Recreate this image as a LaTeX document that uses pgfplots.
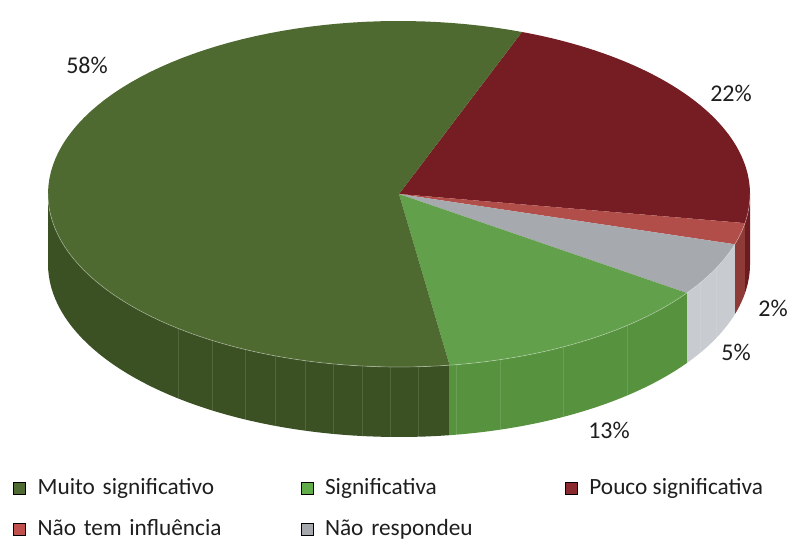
\documentclass[border=0pt]{standalone}
\usepackage{pgfplots}
\usepackage{pgfplotstable}
\pgfplotsset{compat=1.18}
\usepackage{fontspec}
\setmainfont{Carlito}
\definecolor{MuitoT}{HTML}{4F6A31}
\definecolor{MuitoW}{HTML}{3B5124}
\definecolor{SigT}{HTML}{62A04B}
\definecolor{SigW}{HTML}{57923F}
\definecolor{PouT}{HTML}{761D23}
\definecolor{PouW}{HTML}{6C1B20}
\definecolor{NaoT}{HTML}{B24E4A}
\definecolor{NaoW}{HTML}{8E3A37}
\definecolor{RespT}{HTML}{A6A9AE}
\definecolor{RespW}{HTML}{C8CBCF}
\definecolor{MuitoL}{HTML}{4F6B33}
\definecolor{SigL}{HTML}{60AD4A}
\definecolor{PouL}{HTML}{8B2A2E}
\definecolor{NaoL}{HTML}{C0504D}
\definecolor{RespL}{HTML}{A5A8AC}
\definecolor{txt}{HTML}{1E1E1E}

\pgfplotstableread{
name value
Pouco 22
Nao 2
Resp 5
Sig 13
Muito 58
}\piedata

\def\cx{399}
\def\cy{194}
\def\ra{351}
\def\rb{173}
\def\dep{70}

\newcommand\topslice[3]{%
  \addplot[fill=#3, draw=none, forget plot, domain=#1:#2, samples=90, variable=\t]
    ({\cx+\ra*cos(\t)},{\cy-\rb*sin(\t)}) -- (axis cs:\cx,\cy) -- cycle;}
\newcommand\wall[3]{%
  \addplot[fill=#3, draw=none, forget plot, samples at={0,...,101}, variable=\t]
    ({\cx+\ra*cos((\t<50.5) ? (#1+(#2-#1)*\t/50) : (#2+(#1-#2)*(\t-51)/50))},
     {\cy-\rb*sin((\t<50.5) ? (#1+(#2-#1)*\t/50) : (#2+(#1-#2)*(\t-51)/50)) + (\t>50.5)*\dep}) -- cycle;}

\begin{document}%
\begin{tikzpicture}
\pgfplotstablegetelem{0}{value}\of\piedata \pgfmathsetmacro\vA{\pgfplotsretval}
\pgfplotstablegetelem{1}{value}\of\piedata \pgfmathsetmacro\vB{\pgfplotsretval}
\pgfplotstablegetelem{2}{value}\of\piedata \pgfmathsetmacro\vC{\pgfplotsretval}
\pgfplotstablegetelem{3}{value}\of\piedata \pgfmathsetmacro\vD{\pgfplotsretval}
\pgfplotstablegetelem{4}{value}\of\piedata \pgfmathsetmacro\vE{\pgfplotsretval}
\pgfmathsetmacro\bA{69.5}
\pgfmathsetmacro\bB{\bA-3.6*\vA}
\pgfmathsetmacro\bC{\bB-3.6*\vB}
\pgfmathsetmacro\bD{\bC-3.6*\vC}
\pgfmathsetmacro\bE{\bD-3.6*\vD}
\pgfmathsetmacro\bF{\bE-3.6*\vE}
\begin{axis}[name=pie, at={(0pt,0pt)}, anchor=south west,
  scale only axis, width=791pt, height=541pt,
  xmin=0, xmax=791, ymin=0, ymax=541, y dir=reverse,
  hide axis, clip=false,
  legend columns=3, legend cell align=left,
  legend image code/.code={\fill[#1] (0pt,-5pt) rectangle (12pt,7pt);},
  legend style={at={(axis cs:13,478)}, anchor=north west, draw=none, fill=none,
    inner sep=0pt, column sep=12pt, row sep=20pt, text=txt,
    font=\fontsize{23.3}{27}\selectfont,
    nodes={inner sep=0pt, text height=16pt, text depth=5pt},
    /tikz/column 2/.style={text width=251pt},
    /tikz/column 4/.style={text width=228pt}},
]
\wall{0}{\bB}{PouW}
\wall{\bB}{\bC}{NaoW}
\wall{\bC}{\bD}{RespW}
\wall{\bD}{\bE}{SigW}
\wall{\bE}{-180}{MuitoW}
% faint vertical seams on the side wall
\pgfplotsinvokeforeach{178,212,245,275,305,333,362,390,418,456,500,563,627,700,716}{
  \draw[white, opacity=0.12, line width=0.7pt]
    (axis cs:#1,{\cy+\rb*sqrt(1-((#1-\cx)/\ra)^2)}) --
    (axis cs:#1,{\cy+\rb*sqrt(1-((#1-\cx)/\ra)^2)+\dep});
}
\topslice{\bB}{\bA}{PouT}
\topslice{\bC}{\bB}{NaoT}
\topslice{\bD}{\bC}{RespT}
\topslice{\bE}{\bD}{SigT}
\topslice{\bF}{\bE}{MuitoT}
\addplot[white, opacity=0.35, line width=0.7pt, forget plot, domain=-180:0, samples=120, variable=\t]
  ({\cx+\ra*cos(\t)},{\cy-\rb*sin(\t)});

\addlegendimage{fill=MuitoL}\addlegendentry{Muito significativo}
\addlegendimage{fill=SigL}\addlegendentry{Significativa}
\addlegendimage{fill=PouL}\addlegendentry{Pouco significativa}
\addlegendimage{fill=NaoL}\addlegendentry{Não tem influência}
\addlegendimage{fill=RespL}\addlegendentry{Não respondeu}

\begin{scope}[every node/.style={text=txt, font=\fontsize{24}{27}\selectfont, inner sep=0pt}]
\node at (axis cs:87,65) {58\%};
\node at (axis cs:731,93) {22\%};
\node at (axis cs:773,308) {2\%};
\node at (axis cs:736,352) {5\%};
\node at (axis cs:609,430) {13\%};
\end{scope}
\end{axis}
\pgfresetboundingbox
\useasboundingbox (0pt,0pt) rectangle (791pt,541pt);
\end{tikzpicture}%
\end{document}
